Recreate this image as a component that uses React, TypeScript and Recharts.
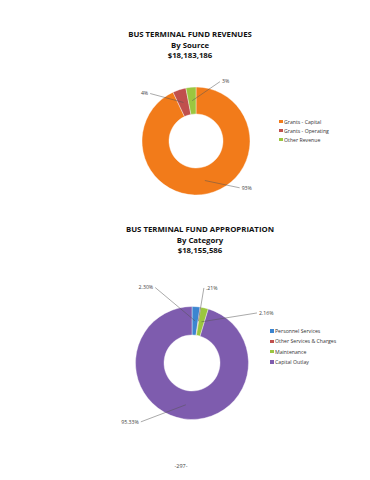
import React from "react";
import { PieChart, Pie, Cell, Legend } from "recharts";

// ---- Data ----
const revenueSources = ["Grants - Capital", "Grants - Operating", "Other Revenue"];
const revenueShares = [93, 4, 3];
const revenueLabels = ["93%", "4%", "3%"];

const appropCategories = ["Personnel Services", "Other Services & Charges", "Maintenance", "Capital Outlay"];
const appropShares = [2.3, 0.21, 2.16, 95.33];
const appropLabels = ["2.30%", ".21%", "2.16%", "95.33%"];

// ---- Styles / placement ----
const revenueColors = ["#F27B1A", "#C0504D", "#9BC63F"];
const appropColors = ["#3C85D0", "#C0504D", "#9BC63F", "#7E5CAE"];

// label leader end points: [angle deg, radius px, anchor]
const revenueLabelPos: [number, number, "start" | "end"][] = [
  [-47, 64, "start"],
  [134, 66, "end"],
  [68, 64, "start"],
];
const appropLabelPos: [number, number, "start" | "end"][] = [
  [116, 84, "end"],
  [81, 76, "start"],
  [37.6, 82, "start"],
  [-131, 78, "end"],
];

const FONT = "'Open Sans', 'Noto Sans', sans-serif";
const RAD = Math.PI / 180;

const makeLabel = (labels: string[], pos: [number, number, "start" | "end"][]) => (props: any) => {
  const { cx, cy, midAngle, innerRadius, outerRadius, index } = props;
  const rm = (innerRadius + outerRadius) / 2;
  const x1 = cx + rm * Math.cos(-midAngle * RAD);
  const y1 = cy + rm * Math.sin(-midAngle * RAD);
  const [a, r, anchor] = pos[index];
  const x2 = cx + r * Math.cos(-a * RAD);
  const y2 = cy + r * Math.sin(-a * RAD);
  const tx = anchor === "start" ? x2 + 2 : x2 - 2;
  return (
    <g key={"lbl" + index}>
      <line x1={x1} y1={y1} x2={x2} y2={y2} stroke="#555" strokeWidth={0.5} />
      <text x={tx} y={y2} dy={1.8} textAnchor={anchor} fontSize={5.2} fill="#444" fontFamily={FONT}>
        {labels[index]}
      </text>
    </g>
  );
};

const makeLegend = (names: string[], colors: string[], gap: number) => () => (
  <div style={{ fontFamily: FONT, fontSize: 5.2, color: "#333" }}>
    {names.map((n, i) => (
      <div key={n} style={{ display: "flex", alignItems: "center", height: gap }}>
        <span style={{ display: "inline-block", width: 3.5, height: 3.5, background: colors[i], marginRight: 1.5 }} />
        <span>{n}</span>
      </div>
    ))}
  </div>
);

const titleStyle: React.CSSProperties = {
  position: "absolute",
  fontFamily: FONT,
  fontWeight: 700,
  fontSize: 7.8,
  lineHeight: "10.5px",
  textAlign: "center",
  color: "#111",
};

const revenueData = revenueSources.map((name, i) => ({ name, value: revenueShares[i] }));
const appropData = appropCategories.map((name, i) => ({ name, value: appropShares[i] }));

export default function App() {
  return (
    <div style={{ position: "absolute", left: 0, top: 0, width: 370, height: 480, background: "#fff", overflow: "hidden" }}>
      <div style={{ ...titleStyle, left: 90, width: 200, top: 29 }}>
        BUS TERMINAL FUND REVENUES<br />By Source<br />$18,183,186
      </div>
      <div style={{ position: "absolute", left: 0, top: 0 }}>
        <PieChart width={370} height={210}>
          <Pie
            data={revenueData}
            dataKey="value"
            cx={191}
            cy={136}
            innerRadius={27}
            outerRadius={54}
            startAngle={90}
            endAngle={-270}
            stroke="#fff"
            strokeWidth={0.4}
            isAnimationActive={false}
            labelLine={false}
            label={makeLabel(revenueLabels, revenueLabelPos)}
          >
            {revenueData.map((d, i) => (
              <Cell key={d.name} fill={revenueColors[i]} />
            ))}
          </Pie>
          <Legend
            content={makeLegend(revenueSources, revenueColors, 9)}
            wrapperStyle={{ left: 279, top: 117, width: 90 }}
          />
        </PieChart>
      </div>

      <div style={{ ...titleStyle, left: 100, width: 200, top: 224 }}>
        BUS TERMINAL FUND APPROPRIATION<br />By Category<br />$18,155,586
      </div>
      <div style={{ position: "absolute", left: 0, top: 220 }}>
        <PieChart width={370} height={240}>
          <Pie
            data={appropData}
            dataKey="value"
            cx={187}
            cy={138}
            innerRadius={28}
            outerRadius={56.5}
            startAngle={90}
            endAngle={-270}
            stroke="#fff"
            strokeWidth={0.4}
            isAnimationActive={false}
            labelLine={false}
            label={makeLabel(appropLabels, appropLabelPos)}
          >
            {appropData.map((d, i) => (
              <Cell key={d.name} fill={appropColors[i]} />
            ))}
          </Pie>
          <Legend
            content={makeLegend(appropCategories, appropColors, 10.3)}
            wrapperStyle={{ left: 270, top: 106, width: 100 }}
          />
        </PieChart>
      </div>

      <div style={{ position: "absolute", left: 0, width: 362, top: 462, textAlign: "center", fontFamily: FONT, fontSize: 5.5, color: "#444" }}>
        -297-
      </div>
    </div>
  );
}
